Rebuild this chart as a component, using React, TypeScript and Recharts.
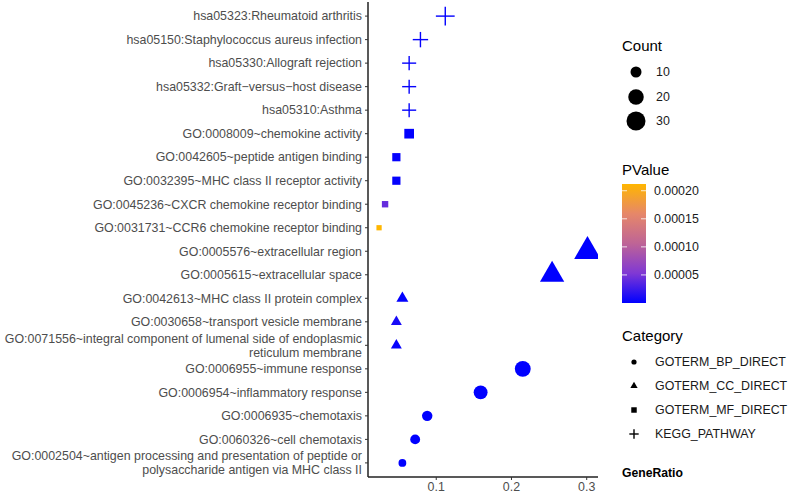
import { ScatterChart, Scatter, XAxis, YAxis, ZAxis } from "recharts";

// rows from top to bottom
const terms = [
  "hsa05323:Rheumatoid arthritis",
  "hsa05150:Staphylococcus aureus infection",
  "hsa05330:Allograft rejection",
  "hsa05332:Graft\u2212versus\u2212host disease",
  "hsa05310:Asthma",
  "GO:0008009~chemokine activity",
  "GO:0042605~peptide antigen binding",
  "GO:0032395~MHC class II receptor activity",
  "GO:0045236~CXCR chemokine receptor binding",
  "GO:0031731~CCR6 chemokine receptor binding",
  "GO:0005576~extracellular region",
  "GO:0005615~extracellular space",
  "GO:0042613~MHC class II protein complex",
  "GO:0030658~transport vesicle membrane",
  "GO:0071556~integral component of lumenal side of endoplasmic\nreticulum membrane",
  "GO:0006955~immune response",
  "GO:0006954~inflammatory response",
  "GO:0006935~chemotaxis",
  "GO:0060326~cell chemotaxis",
  "GO:0002504~antigen processing and presentation of peptide or\npolysaccharide antigen via MHC class II",
];
const categories = [
  "KEGG_PATHWAY", "KEGG_PATHWAY", "KEGG_PATHWAY", "KEGG_PATHWAY", "KEGG_PATHWAY",
  "GOTERM_MF_DIRECT", "GOTERM_MF_DIRECT", "GOTERM_MF_DIRECT", "GOTERM_MF_DIRECT", "GOTERM_MF_DIRECT",
  "GOTERM_CC_DIRECT", "GOTERM_CC_DIRECT", "GOTERM_CC_DIRECT", "GOTERM_CC_DIRECT", "GOTERM_CC_DIRECT",
  "GOTERM_BP_DIRECT", "GOTERM_BP_DIRECT", "GOTERM_BP_DIRECT", "GOTERM_BP_DIRECT", "GOTERM_BP_DIRECT",
];
const geneRatio = [
  0.112, 0.079, 0.064, 0.064, 0.064,
  0.064, 0.047, 0.047, 0.032, 0.024,
  0.301, 0.254, 0.055, 0.047, 0.047,
  0.215, 0.159, 0.088, 0.072, 0.055,
];
const counts = [
  9, 6, 5, 5, 5,
  7, 5, 5, 3, 2,
  30, 25, 6, 5, 5,
  21, 16, 9, 8, 5,
];
const pValues = [
  1e-6, 2e-6, 3e-6, 3e-6, 2e-6,
  1e-6, 2e-6, 2e-6, 4.2e-5, 2.12e-4,
  1e-9, 1e-9, 1e-6, 1e-5, 3e-6,
  1e-10, 1e-9, 1e-7, 1e-7, 1e-6,
];

const categoryOrder = ["GOTERM_BP_DIRECT", "GOTERM_CC_DIRECT", "GOTERM_MF_DIRECT", "KEGG_PATHWAY"];
const countBreaks = [10, 20, 30];
const pBreaks = [0.00005, 0.0001, 0.00015, 0.0002];
const pLabels = ["0.00005", "0.00010", "0.00015", "0.00020"];
const xTicks = [0.1, 0.2, 0.3];

const pMax = 0.000212;
const countDomain = [2, 30];
const areaRange = [19.6, 283.5];

const gradStops: [number, number[]][] = [
  [0, [0, 0, 255]],
  [0.25, [128, 56, 212]],
  [0.5, [190, 100, 150]],
  [0.75, [230, 135, 105]],
  [1, [255, 182, 0]],
];

function pColor(p: number) {
  const t = Math.min(1, Math.max(0, p / pMax));
  for (let i = 1; i < gradStops.length; i++) {
    const [t1, c1] = gradStops[i];
    const [t0, c0] = gradStops[i - 1];
    if (t <= t1) {
      const f = (t - t0) / (t1 - t0);
      const c = c0.map((v, k) => Math.round(v + (c1[k] - v) * f));
      return `rgb(${c[0]},${c[1]},${c[2]})`;
    }
  }
  return "rgb(255,182,0)";
}

function diameterFor(count: number) {
  const area =
    areaRange[0] +
    ((areaRange[1] - areaRange[0]) * (count - countDomain[0])) / (countDomain[1] - countDomain[0]);
  return 2 * Math.sqrt(area / Math.PI);
}

const rows = terms.map((term, i) => ({
  idx: i,
  term,
  category: categories[i],
  ratio: geneRatio[i],
  count: counts[i],
  pValue: pValues[i],
}));

const font = "'Liberation Sans', Arial, sans-serif";
const textSize = 12.4;
const titleSize = 15;

function drawGlyph(kind: string, cx: number, cy: number, d: number, fill: string) {
  if (kind === "GOTERM_BP_DIRECT") {
    return <circle cx={cx} cy={cy} r={d / 2} fill={fill} />;
  }
  if (kind === "GOTERM_CC_DIRECT") {
    const w = d * 1.4;
    const h = w * 0.866;
    return (
      <polygon
        points={`${cx - w / 2},${cy + h / 3} ${cx + w / 2},${cy + h / 3} ${cx},${cy - (2 * h) / 3}`}
        fill={fill}
      />
    );
  }
  if (kind === "GOTERM_MF_DIRECT") {
    const s = d * 1.05;
    return <rect x={cx - s / 2} y={cy - s / 2} width={s} height={s} fill={fill} />;
  }
  const w = d * 1.8;
  return (
    <g stroke={fill} strokeWidth={1.4}>
      <line x1={cx - w / 2} y1={cy} x2={cx + w / 2} y2={cy} />
      <line x1={cx} y1={cy - w / 2} x2={cx} y2={cy + w / 2} />
    </g>
  );
}

const makeShape = (kind: string) => (props: any) => {
  const { cx, cy, payload } = props;
  const size = props.size ?? Math.PI * (props.width / 2) ** 2;
  const d = 2 * Math.sqrt(size / Math.PI);
  return drawGlyph(kind, cx, cy, d, pColor(payload.pValue));
};

function TermTick(props: any) {
  const { x, y, payload } = props;
  const label = terms[payload.value];
  if (label === undefined) return null;
  const lines = label.split("\n");
  const lh = 14;
  const y0 = y - ((lines.length - 1) * lh) / 2;
  return (
    <text textAnchor="end" fill="#4D4D4D" fontSize={textSize} fontFamily={font}>
      {lines.map((l, i) => (
        <tspan key={i} x={x} y={y0 + i * lh + 4.3}>
          {l}
        </tspan>
      ))}
    </text>
  );
}

function Legends() {
  const countY = [72, 97, 121];
  const catY = [362, 386, 410, 434];
  const barTop = 184;
  const barBottom = 303;
  const pToY = (p: number) => barBottom - (p / pMax) * (barBottom - barTop);
  return (
    <svg
      width={788}
      height={494}
      style={{ position: "absolute", left: 0, top: 0, pointerEvents: "none" }}
      fontFamily={font}
    >
      <defs>
        <linearGradient id="pgrad" x1="0" y1="1" x2="0" y2="0">
          {gradStops.map(([t, c]) => (
            <stop key={t} offset={`${t * 100}%`} stopColor={`rgb(${c[0]},${c[1]},${c[2]})`} />
          ))}
        </linearGradient>
      </defs>
      <text x={622} y={51} fontSize={titleSize} fill="#000">Count</text>
      {countBreaks.map((c, i) => (
        <g key={c}>
          <circle cx={636} cy={countY[i]} r={diameterFor(c) / 2} fill="#000" />
          <text x={656} y={countY[i] + 4.3} fontSize={textSize} fill="#1a1a1a">{c}</text>
        </g>
      ))}
      <text x={622} y={175} fontSize={titleSize} fill="#000">PValue</text>
      <rect x={622} y={barTop} width={24} height={barBottom - barTop} fill="url(#pgrad)" />
      {pBreaks.map((p, i) => (
        <g key={p}>
          <line x1={622} x2={627} y1={pToY(p)} y2={pToY(p)} stroke="#fff" strokeWidth={0.8} />
          <line x1={641} x2={646} y1={pToY(p)} y2={pToY(p)} stroke="#fff" strokeWidth={0.8} />
          <text x={654} y={pToY(p) + 4.3} fontSize={textSize} fill="#1a1a1a">{pLabels[i]}</text>
        </g>
      ))}
      <text x={622} y={341} fontSize={titleSize} fill="#000">Category</text>
      {categoryOrder.map((c, i) => (
        <g key={c}>
          {drawGlyph(c, 634, catY[i], 5.2, "#000")}
          <text x={655} y={catY[i] + 4.3} fontSize={textSize} fill="#1a1a1a">{c}</text>
        </g>
      ))}
      <text x={622} y={477} fontSize={12.2} fontWeight="bold" fill="#000">GeneRatio</text>
    </svg>
  );
}

export default function App() {
  return (
    <div style={{ position: "absolute", left: 0, top: 0, width: 788, height: 494, background: "#fff" }}>
      <ScatterChart width={788} height={494} margin={{ top: 2, right: 190, bottom: 0, left: 8 }}>
        <XAxis
          type="number"
          dataKey="ratio"
          domain={[0.0093, 0.315]}
          ticks={xTicks}
          allowDataOverflow
          height={17}
          tickSize={3}
          tickMargin={2}
          axisLine={{ stroke: "#222", strokeWidth: 1.5 }}
          tickLine={{ stroke: "#333" }}
          tick={{ fill: "#4D4D4D", fontSize: textSize, fontFamily: font }}
        />
        <YAxis
          type="number"
          dataKey="idx"
          domain={[-0.6, 19.6]}
          reversed
          ticks={terms.map((_, i) => i)}
          interval={0}
          width={360}
          tickSize={3}
          tickMargin={3}
          axisLine={{ stroke: "#222", strokeWidth: 1.5 }}
          tickLine={{ stroke: "#333" }}
          tick={<TermTick />}
        />
        <ZAxis type="number" dataKey="count" domain={countDomain} range={areaRange} />
        {categoryOrder.map((c) => (
          <Scatter
            key={c}
            data={rows.filter((r) => r.category === c)}
            shape={makeShape(c)}
            isAnimationActive={false}
          />
        ))}
      </ScatterChart>
      <Legends />
    </div>
  );
}
